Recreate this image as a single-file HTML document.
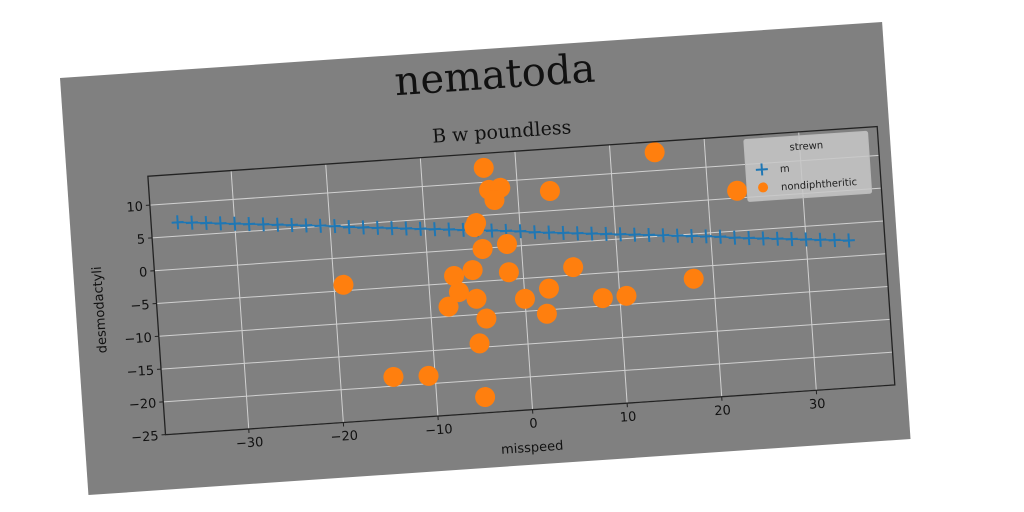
<!DOCTYPE html>
<html><head><meta charset="utf-8"><style>
html,body{margin:0;padding:0;background:#fff;width:1024px;height:512px;overflow:hidden}
svg{display:block}
text{font-family:"DejaVu Sans","Liberation Sans",sans-serif}
</style></head><body>
<svg id="chart" width="1024" height="512" viewBox="0 0 1024 512">
<g id="fig" transform="translate(60,78) rotate(-3.9)">
<rect x="0" y="0" width="824" height="418" fill="#808080"/>
<text x="434" y="40" font-size="40" text-anchor="middle" fill="#111" style="font-family:'DejaVu Serif','Liberation Serif',serif">nematoda</text>
<text x="437" y="90" font-size="19" text-anchor="middle" fill="#111" style="font-family:'DejaVu Serif','Liberation Serif',serif">B w poundless</text>
<g id="grid"></g>
<g id="series"></g>
<rect x="81" y="104" width="731" height="259" fill="none" stroke="#222" stroke-width="1.3"/>
<g id="ticks"></g>
<text x="446" y="405" font-size="13" text-anchor="middle" fill="#111">misspeed</text>
<text x="0" y="0" font-size="13" text-anchor="middle" fill="#111" transform="translate(28,234) rotate(-90)">desmodactyli</text>
<g>
<rect x="678" y="108" width="124" height="62" fill="#c8c8c8" fill-opacity="0.85" stroke="#bbb" rx="2"/>
<text x="740" y="122" font-size="10" text-anchor="middle" fill="#222">strewn</text>
<g>
<path d="M688,139 h12 M694,133 v12" stroke="#1f77b4" stroke-width="2"/>
<text x="712" y="143" font-size="10" fill="#222">m</text>
</g>
<g>
<circle cx="694" cy="157" r="5" fill="#ff7f0e"/>
<text x="712" y="161" font-size="10" fill="#222">nondiphtheritic</text>
</g>
</g>
</g>
</svg>
<script>
const xTicks=[-30,-20,-10,0,10,20,30];
const yTicks=[-25,-20,-15,-10,-5,0,5,10];
const mX=[-36,-34.5,-33,-31.5,-30,-28.5,-27,-25.5,-24,-22.5,-21,-19.5,-18,-16.5,-15,-13.5,-12,-10.5,-9,-7.5,-6,-4.5,-3,-1.5,0,1.5,3,4.5,6,7.5,9,10.5,12,13.5,15,16.5,18,19.5,21,22.5,24,25.5,27,28.5,30,31.5,33,34.5];
const mY=[7.1,6.9,6.7,6.5,6.3,6.1,5.9,5.7,5.5,5.3,5.1,4.9,4.6,4.4,4.2,4.0,3.8,3.6,3.4,3.2,3.0,2.8,2.6,2.4,2.2,1.9,1.7,1.5,1.3,1.1,0.9,0.7,0.5,0.3,0.1,-0.1,-0.3,-0.5,-0.7,-1.0,-1.2,-1.4,-1.6,-1.8,-2.0,-2.2,-2.4,-2.6];
const nX=[-3.4,14.7,23.1,3.4,-3.0,-1.8,-2.5,-4.6,-4.8,-1.5,-4.1,-5.3,-1.5,5.3,-7.3,-19.0,17.9,-6.9,-5.1,0.0,2.6,8.2,10.7,-8.1,-4.2,2.2,-5.1,-14.4,-10.7,-4.9];
const nY=[12.2,12.8,6.1,8.0,8.8,9.0,7.2,3.9,3.3,0.4,-0.1,-3.2,-3.9,-3.8,-3.9,-4.1,-6.8,-6.4,-7.6,-8.1,-6.8,-8.8,-8.7,-8.5,-10.7,-10.6,-14.4,-18.6,-18.8,-22.6];
const X0=81,X1=812,Y0=104,Y1=363,xmin=-38.8,xmax=38.3,ymin=-25,ymax=14.4;
const sx=v=>X0+(v-xmin)/(xmax-xmin)*(X1-X0);
const sy=v=>Y1-(v-ymin)/(ymax-ymin)*(Y1-Y0);
const NS='http://www.w3.org/2000/svg';
function mk(tag,attrs,parent){const e=document.createElementNS(NS,tag);for(const k in attrs)e.setAttribute(k,attrs[k]);parent.appendChild(e);return e;}
const grid=document.getElementById('grid'),ticks=document.getElementById('ticks'),series=document.getElementById('series');
xTicks.forEach(t=>{
 const g=mk('line',{x1:sx(t),x2:sx(t),y1:Y0,y2:Y1,stroke:'#d0d0d0','stroke-width':1},grid);
 
 
 const tk=mk('line',{x1:sx(t),x2:sx(t),y1:Y1,y2:Y1+4,stroke:'#222'},ticks);
 
 
 const l=mk('text',{x:sx(t),y:Y1+18,'font-size':13,'text-anchor':'middle',fill:'#111'},ticks);
 l.textContent=(t<0?'\u2212'+(-t):t);
 
 
});
yTicks.forEach(t=>{
 const g=mk('line',{x1:X0,x2:X1,y1:sy(t),y2:sy(t),stroke:'#d0d0d0','stroke-width':1},grid);
 
 
 const tk=mk('line',{x1:X0-4,x2:X0,y1:sy(t),y2:sy(t),stroke:'#222'},ticks);
 
 
 const l=mk('text',{x:X0-7,y:sy(t)+5,'font-size':13,'text-anchor':'end',fill:'#111'},ticks);
 l.textContent=(t<0?'\u2212'+(-t):t);
 
 
});
const line=mk('polyline',{points:mX.map((x,i)=>sx(x)+','+sy(mY[i])).join(' '),fill:'none',stroke:'#1f77b4','stroke-width':1.5},series);


mX.forEach((x,i)=>{
 const cx=sx(x),cy=sy(mY[i]);
 const p=mk('path',{d:`M${cx-6},${cy} h12 M${cx},${cy-7} v14`,stroke:'#1f77b4','stroke-width':2},series);
 
 
});
nX.forEach((x,i)=>{
 const c=mk('circle',{cx:sx(x),cy:sy(nY[i]),r:10,fill:'#ff7f0e'},series);
 
 
});
</script>
</body></html>
